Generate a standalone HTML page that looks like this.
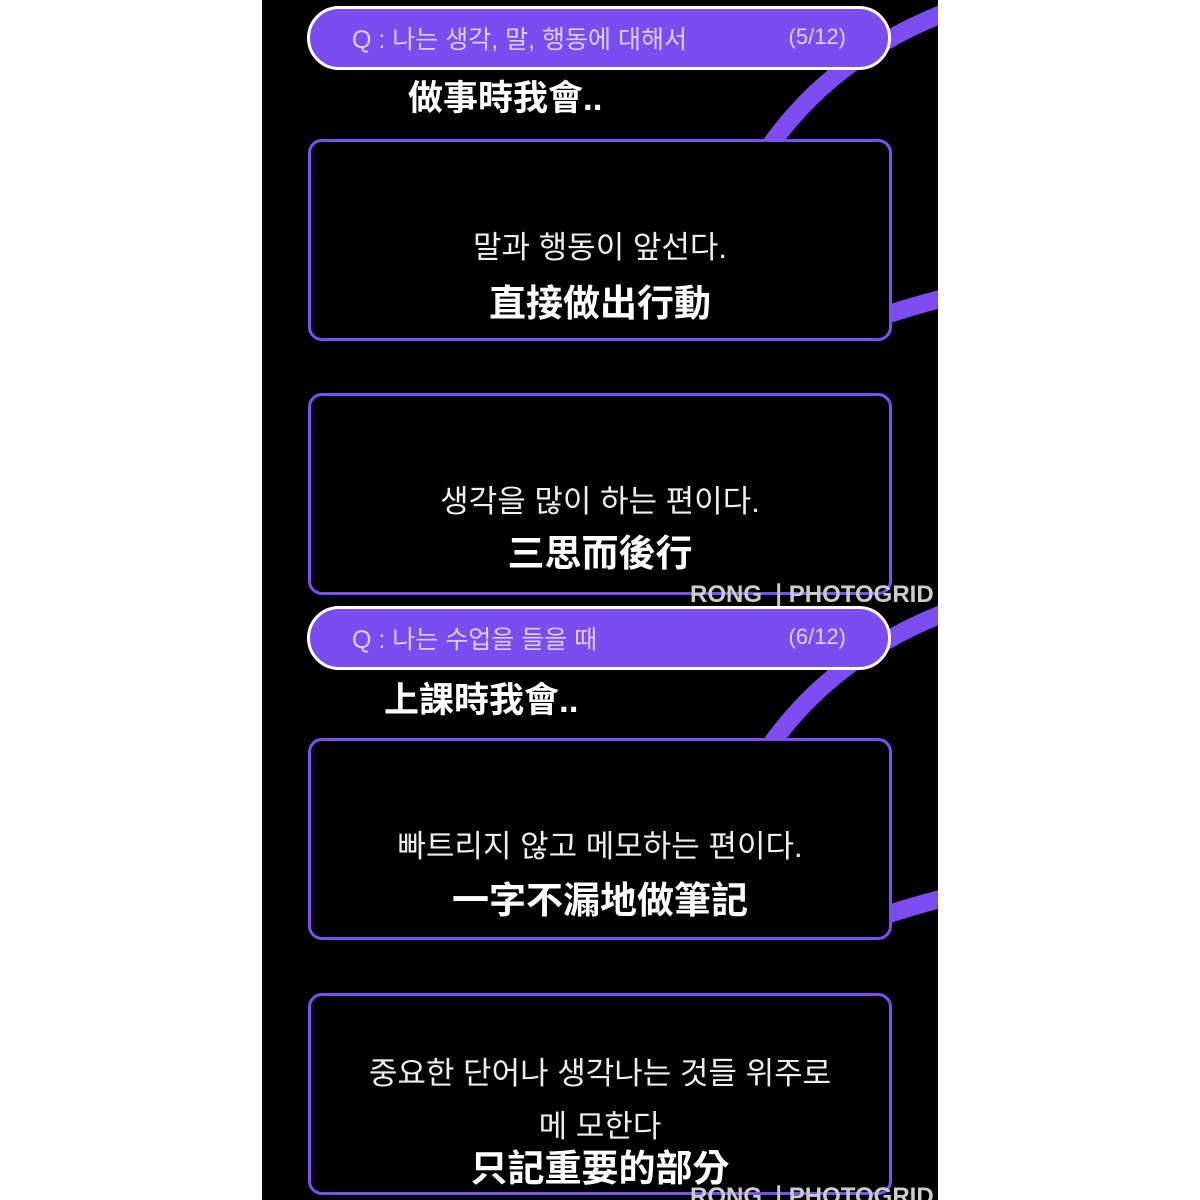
<!DOCTYPE html>
<html><head><meta charset="utf-8"><style>
body{margin:0;width:1200px;height:1200px;background:#fff;position:relative;overflow:hidden;font-family:"Liberation Sans","Noto Sans CJK KR","Noto Sans CJK TC",sans-serif;}
#panel{position:absolute;left:262px;top:0;width:676px;height:1200px;background:#000;overflow:hidden;}
.abs{position:absolute;}
.pill{position:absolute;left:45px;width:578px;height:58px;border:3px solid #fff;border-radius:32px;background:#7a4df0;color:#ddd0ff;font-size:25px;}
.pill .q{position:absolute;left:42px;top:11px;}
.pill .n{position:absolute;right:42px;top:15px;font-size:22px;}
.box{position:absolute;left:46px;width:578px;height:196px;border:3px solid #7c4ff0;border-radius:14px;background:#000;color:#fff;text-align:center;}
.ko{font-size:31px;color:#eee;white-space:nowrap;}
.zh{font-size:37px;font-weight:bold;color:#fff;font-family:"Liberation Sans","Noto Sans CJK TC",sans-serif;}
.sub{position:absolute;color:#fff;font-size:35px;font-weight:bold;font-family:"Liberation Sans","Noto Sans CJK TC",sans-serif;white-space:nowrap;}
.wm{position:absolute;left:428px;color:#ccc;font-size:24px;font-weight:bold;white-space:nowrap;}
</style></head><body>
<div id="panel">
<svg class="abs" style="left:0;top:0" width="676" height="1200">
<g fill="none" stroke="#7d4cf2" stroke-width="18" stroke-linecap="round">
<path d="M505 150 Q 570 55 690 10"/>
<path d="M615 318 Q 650 306 690 296"/>
<path d="M505 750 Q 570 655 690 610"/>
<path d="M615 918 Q 650 906 690 896"/>
</g>
</svg>

<div class="pill" style="top:6px"><span class="q">Q : 나는 생각, 말, 행동에 대해서</span><span class="n">(5/12)</span></div>
<div class="sub" style="left:146px;top:70px">做事時我會..</div>
<div class="box" style="top:139px"><div class="ko" style="margin-top:80px">말과 행동이 앞선다.</div><div class="zh" style="margin-top:6px">直接做出行動</div></div>
<div class="box" style="top:393px"><div class="ko" style="margin-top:80px">생각을 많이 하는 편이다.</div><div class="zh" style="margin-top:2px">三思而後行</div></div>
<div class="wm" style="top:580px">RONG ❘PHOTOGRID</div>

<div class="pill" style="top:606px"><span class="q">Q : 나는 수업을 들을 때</span><span class="n">(6/12)</span></div>
<div class="sub" style="left:122px;top:672px">上課時我會..</div>
<div class="box" style="top:738px"><div class="ko" style="margin-top:80px">빠트리지 않고 메모하는 편이다.</div><div class="zh" style="margin-top:4px">一字不漏地做筆記</div></div>
<div class="box" style="top:993px"><div class="ko" style="margin-top:52px">중요한 단어나 생각나는 것들 위주로</div><div class="ko" style="margin-top:8px">메 모한다</div><div class="zh" style="margin-top:-8px">只記重要的部分</div></div>
<div class="wm" style="top:1182px">RONG ❘PHOTOGRID</div>
</div>
</body></html>
